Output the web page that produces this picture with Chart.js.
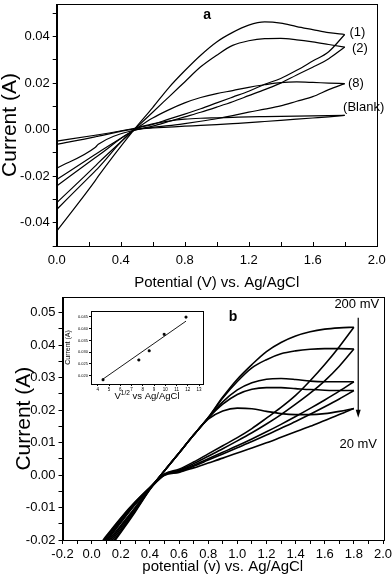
<!DOCTYPE html>
<html>
<head>
<meta charset="utf-8">
<script src="https://cdn.jsdelivr.net/npm/chart.js@4.4.1/dist/chart.umd.min.js"></script>
<style>
  body { margin: 0; background: #fff; }
  #wrap { position: relative; width: 392px; height: 582px; }
  canvas { position: absolute; }
</style>
</head>
<body>
<div id="wrap">
  <canvas id="chartA" width="392" height="292" style="left:0;top:0"></canvas>
  <canvas id="chartB" width="392" height="290" style="left:0;top:292px"></canvas>
  <canvas id="inset" width="146" height="96" style="left:62px;top:306px"></canvas>
</div>
<script>
// ---- panel a : potential grid (V) and current (A), forward / reverse sweep of each cycle
const potA = [0, 0.24, 0.26, 0.48, 0.6, 0.7, 0.8, 0.9, 1.0, 1.1, 1.2, 1.3, 1.4, 1.5, 1.6, 1.7, 1.8];
const cyc1Fwd = [-0.0436, -0.022, -0.020, -0.0003, 0.0095, 0.018, 0.0253, 0.032, 0.0377, 0.0418, 0.0449, 0.0463, 0.0458, 0.0443, 0.043, 0.0417, 0.0409];
const cyc1Rev = [-0.0343, -0.0178, -0.0164, -0.0003, 0.0022, 0.0045, 0.0067, 0.009, 0.0115, 0.014, 0.0165, 0.0195, 0.022, 0.0255, 0.0295, 0.0335, 0.0409];
const cyc2Fwd = [-0.0314, -0.0157, -0.0143, -0.0003, 0.0075, 0.014, 0.0205, 0.027, 0.032, 0.0362, 0.0382, 0.0391, 0.0392, 0.0386, 0.0377, 0.0366, 0.0355];
const cyc2Rev = [-0.0242, -0.0121, -0.0111, -0.0005, 0.0015, 0.0035, 0.0055, 0.0075, 0.0097, 0.012, 0.0146, 0.0172, 0.020, 0.0235, 0.0268, 0.0305, 0.0355];
const cyc8Fwd = [-0.0214, -0.0107, -0.0098, -0.0003, 0.005, 0.0085, 0.0115, 0.0138, 0.0155, 0.0168, 0.0182, 0.0193, 0.0202, 0.0205, 0.0203, 0.0200, 0.0198];
const cyc8Rev = [-0.0166, -0.0077, -0.0063, -0.0003, 0.001, 0.0017, 0.0026, 0.0036, 0.0047, 0.006, 0.0075, 0.0088, 0.0102, 0.0122, 0.0142, 0.0172, 0.0198];
const blankFwd = [-0.0049, -0.0024, -0.0022, 0.0005, 0.0025, 0.0037, 0.0045, 0.0049, 0.0051, 0.0053, 0.0055, 0.0056, 0.0057, 0.0058, 0.0059, 0.006, 0.0061];
const blankRev = [-0.0063, -0.0031, -0.0028, 0.0002, 0.0007, 0.0011, 0.0015, 0.0018, 0.0022, 0.0026, 0.003, 0.0035, 0.004, 0.0045, 0.005, 0.0055, 0.0061];

// ---- panel b : scan rates from 200 mV (scan1) down to 20 mV (scan5)
const potB = [0.06, 0.1, 0.2, 0.3, 0.4, 0.5, 0.6, 0.7, 0.8, 0.9, 1.0, 1.1, 1.2, 1.3, 1.4, 1.5, 1.6, 1.7, 1.8];
const scan1Fwd = [-0.0262, -0.0238, -0.0177, -0.0113, -0.0045, 0.0013, 0.0068, 0.0123, 0.0177, 0.024, 0.0295, 0.034, 0.038, 0.0408, 0.0428, 0.0441, 0.0449, 0.0453, 0.0455];
const scan1Rev = [-0.0212, -0.0188, -0.0132, -0.0082, -0.0038, 0.0003, 0.0018, 0.004, 0.0065, 0.009, 0.0115, 0.0143, 0.0175, 0.0208, 0.0245, 0.029, 0.034, 0.0395, 0.0455];
const scan2Fwd = [-0.0255, -0.0232, -0.0172, -0.011, -0.0044, 0.0013, 0.0068, 0.0123, 0.0176, 0.0237, 0.0288, 0.033, 0.0355, 0.0373, 0.0382, 0.0387, 0.0389, 0.0389, 0.0388];
const scan2Rev = [-0.0216, -0.0192, -0.0135, -0.0084, -0.0039, 0.0002, 0.0015, 0.0035, 0.0058, 0.0081, 0.0105, 0.013, 0.0157, 0.0186, 0.0218, 0.0252, 0.029, 0.0335, 0.0388];
const scan3Fwd = [-0.0246, -0.0224, -0.0166, -0.0106, -0.0043, 0.0013, 0.0068, 0.0123, 0.0175, 0.0225, 0.0262, 0.0284, 0.0295, 0.0297, 0.0294, 0.0289, 0.0287, 0.0287, 0.0287];
const scan3Rev = [-0.022, -0.0197, -0.0139, -0.0086, -0.004, 0.0001, 0.0012, 0.003, 0.005, 0.007, 0.009, 0.0111, 0.0133, 0.0156, 0.018, 0.0205, 0.0231, 0.0258, 0.0287];
const scan4Fwd = [-0.0238, -0.0217, -0.016, -0.0102, -0.0042, 0.0013, 0.0068, 0.0123, 0.0175, 0.0218, 0.0248, 0.0264, 0.0269, 0.0269, 0.0266, 0.0263, 0.0261, 0.026, 0.026];
const scan4Rev = [-0.0225, -0.0202, -0.0143, -0.0088, -0.0041, 0.0, 0.001, 0.0027, 0.0046, 0.0065, 0.0084, 0.0103, 0.0123, 0.0144, 0.0165, 0.0187, 0.021, 0.0234, 0.026];
const scan5Fwd = [-0.023, -0.021, -0.0155, -0.0099, -0.0041, 0.0013, 0.0068, 0.0123, 0.0172, 0.0197, 0.0206, 0.0204, 0.0196, 0.0189, 0.0186, 0.0186, 0.0189, 0.0196, 0.0205];
const scan5Rev = [-0.0229, -0.0206, -0.0147, -0.009, -0.0042, -0.0001, 0.0008, 0.0022, 0.0037, 0.0052, 0.0068, 0.0083, 0.0099, 0.0116, 0.0133, 0.015, 0.0168, 0.0186, 0.0205];

// ---- inset : peak current vs square root of scan rate
const sqrtRate = [4.47, 7.65, 8.57, 9.9, 11.84];
const peakCurrent = [0.0183, 0.0267, 0.0306, 0.0376, 0.0449];
const fitX = [4.47, 11.84];
const fitY = [0.0186, 0.0432];

Chart.defaults.font.family = '"Liberation Sans", Arial, sans-serif';
Chart.defaults.color = '#000';
Chart.defaults.animation = false;

const pts = (xs, ys) => xs.map((x, i) => ({x: x, y: ys[i]}));

function curve(xs, ys, w) {
    return {
        data: pts(xs, ys),
        borderColor: '#000',
        borderWidth: w,
        pointRadius: 0,
        cubicInterpolationMode: 'monotone',
        fill: false
    };
}

// box around the plot area (+ inward x ticks when asked)
const frame = {
    id: 'frame',
    afterDraw(chart, args, opts) {
        const {ctx, chartArea: a} = chart;
        ctx.save();
        ctx.strokeStyle = '#000';
        ctx.lineWidth = 1;
        ctx.strokeRect(Math.round(a.left) + 0.5, Math.round(a.top) + 0.5,
            Math.round(a.right - a.left), Math.round(a.bottom - a.top));
        if (opts.inwardX) {
            const sx = chart.scales.x;
            ctx.beginPath();
            sx.ticks.forEach(t => {
                const x = Math.round(sx.getPixelForValue(t.value)) + 0.5;
                ctx.moveTo(x, a.bottom);
                ctx.lineTo(x, a.bottom - 4);
            });
            ctx.stroke();
        }
        ctx.restore();
    }
};

// text labels and arrow placed in data units
const notes = {
    id: 'notes',
    afterDraw(chart, args, opts) {
        const {ctx, scales} = chart;
        ctx.save();
        ctx.fillStyle = '#000';
        ctx.strokeStyle = '#000';
        (opts.items || []).forEach(it => {
            ctx.font = it.font;
            ctx.textAlign = it.align || 'left';
            ctx.textBaseline = 'middle';
            ctx.fillText(it.text, scales.x.getPixelForValue(it.x), scales.y.getPixelForValue(it.y));
        });
        if (opts.arrow) {
            const ar = opts.arrow;
            const x = scales.x.getPixelForValue(ar.x);
            const y1 = scales.y.getPixelForValue(ar.from);
            const y2 = scales.y.getPixelForValue(ar.to);
            ctx.lineWidth = 1.2;
            ctx.beginPath();
            ctx.moveTo(x, y1);
            ctx.lineTo(x, y2 - 6);
            ctx.stroke();
            ctx.beginPath();
            ctx.moveTo(x - 2.5, y2 - 8);
            ctx.lineTo(x + 2.5, y2 - 8);
            ctx.lineTo(x, y2);
            ctx.closePath();
            ctx.fill();
        }
        ctx.restore();
    }
};

function axisX(min, max, step, labelEvery, h, title, titlePad, inward) {
    return {
        type: 'linear', min: min, max: max,
        grid: {drawOnChartArea: false, color: '#000', tickLength: 4, drawTicks: !inward},
        border: {color: '#000'},
        ticks: {
            stepSize: step, autoSkip: false, maxRotation: 0, includeBounds: false, padding: inward ? 7 : 3,
            font: {size: 13},
            callback: v => Math.round(v * 10) % labelEvery === 0 ? v.toFixed(1) : ''
        },
        title: {display: true, text: title, font: {size: 15}, padding: {top: 0, bottom: titlePad}},
        afterFit: s => { s.height = h; s.paddingLeft = 0; s.paddingRight = 0; }
    };
}

// labelEvery is in thousandths of an ampere
function axisY(min, max, step, labelEvery, w, titlePad) {
    return {
        min: min, max: max,
        grid: {drawOnChartArea: false, color: '#000', tickLength: 4},
        border: {color: '#000'},
        ticks: {
            stepSize: step, autoSkip: false, includeBounds: false, padding: 3,
            font: {size: 13},
            callback: v => Math.round(v * 1000) % labelEvery === 0 ? v.toFixed(2) : ''
        },
        title: {display: true, text: 'Current (A)', font: {size: 21, lineHeight: 1}, padding: {top: titlePad, bottom: 0}},
        afterFit: s => { s.width = w; s.paddingTop = 0; s.paddingBottom = 0; }
    };
}

new Chart(document.getElementById('chartA'), {
    type: 'line',
    data: {
        datasets: [
            curve(potA, cyc1Fwd, 1.2), curve(potA, cyc1Rev, 1.2),
            curve(potA, cyc2Fwd, 1.2), curve(potA, cyc2Rev, 1.2),
            curve(potA, cyc8Fwd, 1.2), curve(potA, cyc8Rev, 1.2),
            curve(potA, blankFwd, 1.2), curve(potA, blankRev, 1.2)
        ]
    },
    options: {
        responsive: false,
        layout: {padding: {top: 4, right: 15.3, left: 0, bottom: 0}},
        plugins: {
            legend: {display: false},
            tooltip: {enabled: false},
            frame: {inwardX: true},
            notes: {
                items: [
                    {text: 'a', x: 0.94, y: 0.0492, font: 'bold 14px "Liberation Sans"', align: 'center'},
                    {text: '(1)', x: 1.83, y: 0.0418, font: '13px "Liberation Sans"'},
                    {text: '(2)', x: 1.845, y: 0.035, font: '13px "Liberation Sans"'},
                    {text: '(8)', x: 1.82, y: 0.0199, font: '13px "Liberation Sans"'},
                    {text: '(Blank)', x: 1.79, y: 0.0095, font: '13px "Liberation Sans"'}
                ]
            }
        },
        scales: {
            x: axisX(0, 2.0, 0.2, 4, 46, 'Potential (V) vs. Ag/AgCl', 0, true),
            y: axisY(-0.05, 0.054, 0.01, 20, 56.7, 0)
        }
    },
    plugins: [frame, notes]
});

new Chart(document.getElementById('chartB'), {
    type: 'line',
    data: {
        datasets: [
            curve(potB, scan1Fwd, 1.6), curve(potB, scan1Rev, 1.6),
            curve(potB, scan2Fwd, 1.6), curve(potB, scan2Rev, 1.6),
            curve(potB, scan3Fwd, 1.6), curve(potB, scan3Rev, 1.6),
            curve(potB, scan4Fwd, 1.6), curve(potB, scan4Rev, 1.6),
            curve(potB, scan5Fwd, 1.6), curve(potB, scan5Rev, 1.6)
        ]
    },
    options: {
        responsive: false,
        layout: {padding: {top: 5.3, right: 9, left: 0, bottom: 0}},
        plugins: {
            legend: {display: false},
            tooltip: {enabled: false},
            notes: {
                items: [
                    {text: 'b', x: 0.97, y: 0.0487, font: 'bold 14px "Liberation Sans"', align: 'center'},
                    {text: '200 mV', x: 1.82, y: 0.0524, font: '13px "Liberation Sans"', align: 'center'},
                    {text: '20 mV', x: 1.83, y: 0.0093, font: '13px "Liberation Sans"', align: 'center'}
                ],
                arrow: {x: 1.83, from: 0.0484, to: 0.0176}
            }
        },
        scales: {
            x: axisX(-0.2, 2.0, 0.1, 2, 42, 'potential (v) vs. Ag/AgCl', 6, false),
            y: axisY(-0.02, 0.0547, 0.005, 10, 62.5, 13.5)
        }
    },
    plugins: [frame, notes]
});

// inset: superscript x title drawn by hand
const insetTitle = {
    id: 'insetTitle',
    afterDraw(chart) {
        const {ctx, chartArea: a} = chart;
        const big = '9.5px "Liberation Sans"', small = '6.5px "Liberation Sans"';
        ctx.save();
        ctx.fillStyle = '#000';
        ctx.textBaseline = 'alphabetic';
        ctx.font = big; const w1 = ctx.measureText('V').width; const w3 = ctx.measureText(' vs Ag/AgCl').width;
        ctx.font = small; const w2 = ctx.measureText('1/2').width;
        let x = (a.left + a.right) / 2 - (w1 + w2 + w3) / 2;
        const y = 93;
        ctx.font = big; ctx.fillText('V', x, y); x += w1;
        ctx.font = small; ctx.fillText('1/2', x, y - 4); x += w2;
        ctx.font = big; ctx.fillText(' vs Ag/AgCl', x, y);
        ctx.restore();
    }
};

new Chart(document.getElementById('inset'), {
    type: 'line',
    data: {
        datasets: [
            {
                data: pts(sqrtRate, peakCurrent), showLine: false,
                pointStyle: 'rect', pointRadius: 1.3, backgroundColor: '#000', borderColor: '#000'
            },
            {data: pts(fitX, fitY), borderColor: '#000', borderWidth: 0.9, pointRadius: 0}
        ]
    },
    options: {
        responsive: false,
        layout: {padding: {top: 4, right: 4.7, left: 0, bottom: 0}},
        plugins: {legend: {display: false}, tooltip: {enabled: false}},
        scales: {
            x: {
                type: 'linear', min: 3.4, max: 13.35,
                grid: {drawOnChartArea: false, color: '#000', tickLength: 2},
                border: {color: '#000'},
                ticks: {stepSize: 1, autoSkip: false, maxRotation: 0, includeBounds: false, padding: 1, font: {size: 4.5}},
                afterFit: s => { s.height = 18; s.paddingLeft = 0; s.paddingRight = 0; }
            },
            y: {
                min: 0.0165, max: 0.0475,
                grid: {drawOnChartArea: false, color: '#000', tickLength: 2},
                border: {color: '#000'},
                ticks: {stepSize: 0.005, includeBounds: false, padding: 1, font: {size: 4}, callback: v => v.toFixed(3)},
                title: {display: true, text: 'Current (A)', font: {size: 7, lineHeight: 1}, padding: {top: 2.5, bottom: 0}},
                afterFit: s => { s.width = 29; s.paddingTop = 0; s.paddingBottom = 0; }
            }
        }
    },
    plugins: [frame, insetTitle]
});
</script>
</body>
</html>
